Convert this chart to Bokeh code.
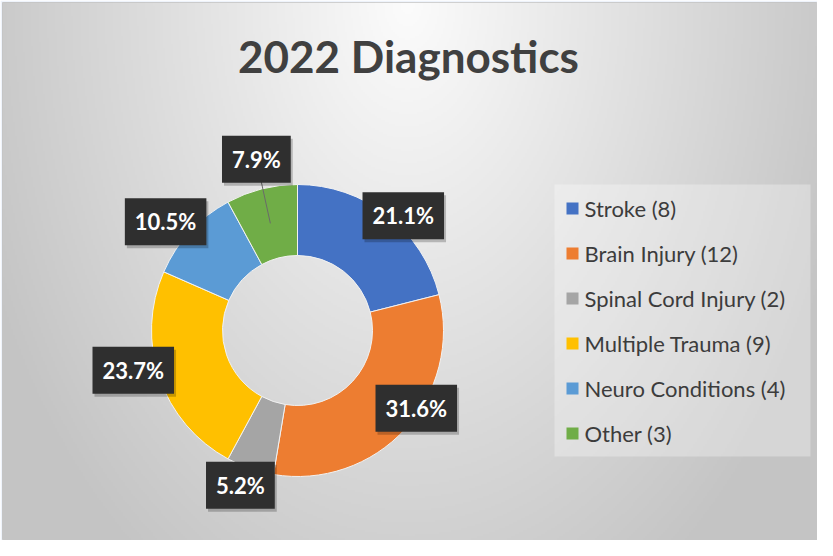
import numpy as np
from bokeh.plotting import figure
from bokeh.models import Range1d, ColumnDataSource
from bokeh.core.properties import value
from bokeh.embed import file_html
from bokeh.resources import INLINE

# ---------------- data ----------------
categories = ["Stroke", "Brain Injury", "Spinal Cord Injury",
              "Multiple Trauma", "Neuro Conditions", "Other"]
counts = [8, 12, 2, 9, 4, 3]
pct_labels = ["21.1%", "31.6%", "5.2%", "23.7%", "10.5%", "7.9%"]
legend_labels = ["Stroke  (8)", "Brain Injury  (12)", "Spinal Cord Injury  (2)",
                 "Multiple Trauma  (9)", "Neuro Conditions (4)", "Other (3)"]
colors = ["#4472C4", "#ED7D31", "#A5A5A5", "#FFC000", "#5B9BD5", "#70AD47"]
title_text = "2022 Diagnostics"

# ---------------- layout (page pixel helpers) ----------------
def px(x):
    return x - 10


def py(y):
    return 548 - y


W, H = 817, 540
FW, FH = 815, 538
FONT = value("Lato")

p = figure(width=W, height=H, output_backend="svg", toolbar_location=None,
           x_range=Range1d(0, FW), y_range=Range1d(0, FH),
           x_axis_location=None, y_axis_location=None,
           min_border_left=2, min_border_right=0, min_border_top=2, min_border_bottom=0)
p.grid.visible = False
p.border_fill_color = "#EEF3FB"
p.background_fill_color = "#dddddd"
p.outline_line_color = "#c4c4c4"

# radial gray gradient background
rows, cols = 270, 408
yy, xx = np.mgrid[0:rows, 0:cols]
dx_ = (xx + 0.5) * FW / cols - px(415)
dy_ = (yy + 0.5) * FH / rows - py(10)
d = np.sqrt((dx_ / 410.0) ** 2 + (dy_ / 620.0) ** 2)
g = np.clip(252 - 50 * d, 196, 252).astype(np.uint8)
img = np.empty((rows, cols), dtype=np.uint32)
view = img.view(dtype=np.uint8).reshape((rows, cols, 4))
view[..., 0] = g
view[..., 1] = g
view[..., 2] = g
view[..., 3] = 255
p.image_rgba(image=[img], x=0, y=0, dw=FW, dh=FH)

# ---------------- donut ----------------
cx, cy = px(305), py(338)
r_in, r_out = 75, 146
total = float(sum(counts))
fr = np.array(counts) / total
cum = np.concatenate([[0.0], np.cumsum(fr)])
start = np.pi / 2 - 2 * np.pi * cum[:-1]
end = np.pi / 2 - 2 * np.pi * cum[1:]
src = ColumnDataSource(dict(start=start, end=end, color=colors, cat=categories))
p.annular_wedge(x=cx, y=cy, inner_radius=r_in, outer_radius=r_out,
                start_angle="start", end_angle="end", direction="clock",
                fill_color="color", line_color="#f2f2f2", line_width=1, source=src)

# ---------------- data labels ----------------
label_r = [156, 142, 165, 169, 171, 176]
label_nudge = [4.8, -9.4, 1.3, 5.3, -3.1, 0.7]
mid_deg = (cum[:-1] + cum[1:]) / 2 * 360.0
ang = np.radians(mid_deg + np.array(label_nudge))
lx = cx + np.array(label_r) * np.sin(ang)
ly = cy + np.array(label_r) * np.cos(ang)

# leader line for the moved label (Other)
mr = (r_in + r_out) / 2
i = 5
p.segment(x0=[cx + mr * np.sin(np.radians(mid_deg[i]))],
          y0=[cy + mr * np.cos(np.radians(mid_deg[i]))],
          x1=[lx[i]], y1=[ly[i]], line_color="#6a6a6a", line_width=1)

lab = ColumnDataSource(dict(x=lx, y=ly, t=pct_labels))
shadow = ColumnDataSource(dict(x=lx + 2, y=ly - 3, t=pct_labels))
common = dict(text="t", text_font=FONT, text_font_style="bold", text_font_size="22px",
              text_align="center", text_baseline="middle", padding=10)
p.text(x="x", y="y", source=shadow, text_color="black", text_alpha=0.0,
       background_fill_color="black", background_fill_alpha=0.22, **common)
p.text(x="x", y="y", source=lab, text_color="white",
       background_fill_color="#2f2f2f", **common)

# ---------------- title ----------------
p.text(x=[px(416)], y=[py(63)], text=[title_text], text_font=FONT, text_font_style="bold",
       text_font_size="44px", text_color="#404040", text_align="center",
       text_baseline="middle")

# ---------------- legend ----------------
p.quad(left=[px(562)], right=[px(818)], top=[py(192)], bottom=[py(464)],
       fill_color="white", fill_alpha=0.3, line_color=None)
n = len(categories)
ley = [py(216 + 45 * k) for k in range(n)]
p.scatter(x=[px(580)] * n, y=ley, marker="square", size=12,
          fill_color=colors, line_color=None)
p.text(x=[px(592)] * n, y=ley, text=legend_labels, text_font=FONT, text_font_size="22px",
       text_color="#3c3c3c", text_align="left", text_baseline="middle")

open("out.html", "w").write(file_html(p, INLINE))
